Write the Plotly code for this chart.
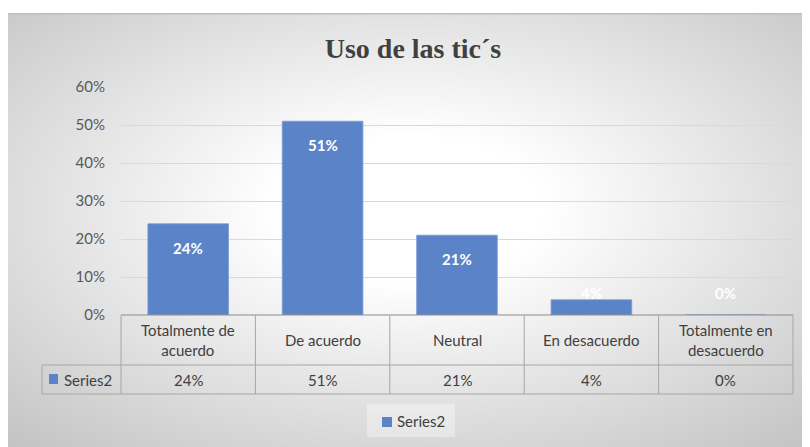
import base64
import plotly.graph_objects as go

# ---- data ----
categories = ["Totalmente de acuerdo", "De acuerdo", "Neutral", "En desacuerdo", "Totalmente en desacuerdo"]
header_labels = ["Totalmente de<br>acuerdo", "De acuerdo", "Neutral", "En desacuerdo", "Totalmente en<br>desacuerdo"]
values = [0.24, 0.51, 0.21, 0.04, 0.00]
series_name = "Series2"
title_text = "Uso de las tic´s"
y_ticks = [0, 0.1, 0.2, 0.3, 0.4, 0.5, 0.6]

BAR = "#5b84c8"
FONT = "Lato, 'Open Sans', sans-serif"

# page body has an 8px margin: work in reference pixels, shift by OFF
OFF = 8
W, H = 810 - OFF, 447 - OFF
L, R, T, B = 121 - OFF, 793 - OFF, 87 - OFF, 315 - OFF
def px(x):
    return (x - OFF - L) / (R - L)
def py(y):
    return (B - (y - OFF)) / (B - T)

fig = go.Figure()
fig.add_trace(go.Bar(
    x=categories, y=values, name=series_name,
    marker=dict(color=BAR, line=dict(color="#7a9bd3", width=0.8)),
    width=0.6, showlegend=False, hoverinfo="skip",
))

# background gradient via SVG image
svg = ('<svg xmlns="http://www.w3.org/2000/svg" width="803" height="434" preserveAspectRatio="none">'
       '<defs><radialGradient id="g" cx="0.5" cy="0.45" r="0.75">'
       '<stop offset="0" stop-color="#ffffff"/>'
       '<stop offset="0.22" stop-color="#ffffff"/>'
       '<stop offset="1" stop-color="#c2c2c2"/>'
       '</radialGradient></defs>'
       '<rect x="0" y="0" width="803" height="434" fill="url(#g)"/>'
       '<rect x="0" y="0" width="803" height="1.5" fill="#bdbdbd"/>'
       '</svg>')
src = "data:image/svg+xml;base64," + base64.b64encode(svg.encode()).decode()
fig.add_layout_image(dict(
    source=src, xref="paper", yref="paper",
    x=px(7), y=py(13), sizex=px(810) - px(7), sizey=py(13) - py(447),
    xanchor="left", yanchor="top", sizing="stretch", layer="below",
))

shapes = []
annotations = []
LINE = dict(color="#a6a6a6", width=1)
row1_bot, row2_bot = 365, 394
left_col = 42
TXT = dict(family=FONT, size=15, color="#404040")

# table lines
shapes.append(dict(type="line", xref="paper", yref="paper", x0=0, x1=1, y0=0, y1=0,
                   line=dict(color="#8c8c8c", width=1.2)))
shapes.append(dict(type="line", xref="paper", yref="paper", x0=px(left_col), x1=1,
                   y0=py(row1_bot), y1=py(row1_bot), line=LINE))
shapes.append(dict(type="line", xref="paper", yref="paper", x0=px(left_col), x1=1,
                   y0=py(row2_bot), y1=py(row2_bot), line=LINE))
n = len(categories)
for i in range(n + 1):
    xb = i / n
    shapes.append(dict(type="line", xref="paper", yref="paper", x0=xb, x1=xb,
                       y0=0, y1=py(row2_bot), line=LINE))
shapes.append(dict(type="line", xref="paper", yref="paper", x0=px(left_col), x1=px(left_col),
                   y0=py(row1_bot), y1=py(row2_bot), line=LINE))
# legend key in table
shapes.append(dict(type="rect", xref="paper", yref="paper", x0=px(49), x1=px(58),
                   y0=py(384), y1=py(374), fillcolor=BAR, line=dict(width=0)))
annotations.append(dict(text=series_name, xref="paper", yref="paper", x=px(62), y=py(379.5),
                        xanchor="left", yanchor="middle", showarrow=False, font=TXT))

for i, (cat, lab, v) in enumerate(zip(categories, header_labels, values)):
    annotations.append(dict(text=lab, x=cat, xref="x", yref="paper", y=py(340),
                            yanchor="middle", showarrow=False, font=TXT))
    annotations.append(dict(text=f"{v:.0%}", x=cat, xref="x", yref="paper", y=py(379.5),
                            yanchor="middle", showarrow=False, font=TXT))
    if v >= 0.08:
        annotations.append(dict(text=f"{v:.0%}", x=cat, y=v, xref="x", yref="y",
                                yanchor="top", yshift=-13, showarrow=False,
                                font=dict(family=FONT, size=15, color="white", weight="bold")))
    else:
        annotations.append(dict(text=f"{v:.0%}", x=cat, y=0, xref="x", yref="y",
                                yanchor="bottom", yshift=11, showarrow=False,
                                font=dict(family=FONT, size=15, color="white", weight="bold")))

# bottom legend (drawn manually so the key sits next to the text)
shapes.append(dict(type="rect", xref="paper", yref="paper", x0=px(367), x1=px(455),
                   y0=py(437), y1=py(404), fillcolor="rgba(255,255,255,0.35)", line=dict(width=0)))
shapes.append(dict(type="rect", xref="paper", yref="paper", x0=px(382), x1=px(392),
                   y0=py(427), y1=py(417), fillcolor=BAR, line=dict(width=0)))
annotations.append(dict(text=series_name, xref="paper", yref="paper", x=px(395), y=py(421),
                        xanchor="left", yanchor="middle", showarrow=False, font=TXT))

fig.update_layout(
    width=W, height=H,
    margin=dict(l=L, r=W - R, t=T, b=H - B),
    paper_bgcolor="white", plot_bgcolor="rgba(0,0,0,0)",
    title=dict(text=title_text, xref="paper", x=px(413), xanchor="center",
               yref="container", y=1 - (48 - OFF) / H, yanchor="middle",
               font=dict(family="'Liberation Serif', 'Times New Roman', serif", size=28,
                         color="#404040", weight="bold")),
    bargap=0.4,
    xaxis=dict(showticklabels=False, showgrid=False, showline=False, zeroline=False,
               ticks="", fixedrange=True),
    yaxis=dict(range=[0, 0.6], tickvals=y_ticks, tickformat=".0%", showgrid=True,
               gridcolor="#d9d9d9", gridwidth=1, zeroline=False, showline=False,
               ticks="", ticklabelstandoff=15,
               tickfont=dict(family=FONT, size=15, color="#595959")),
    shapes=shapes, annotations=annotations,
    showlegend=False,
)

fig.write_html("out.html")
